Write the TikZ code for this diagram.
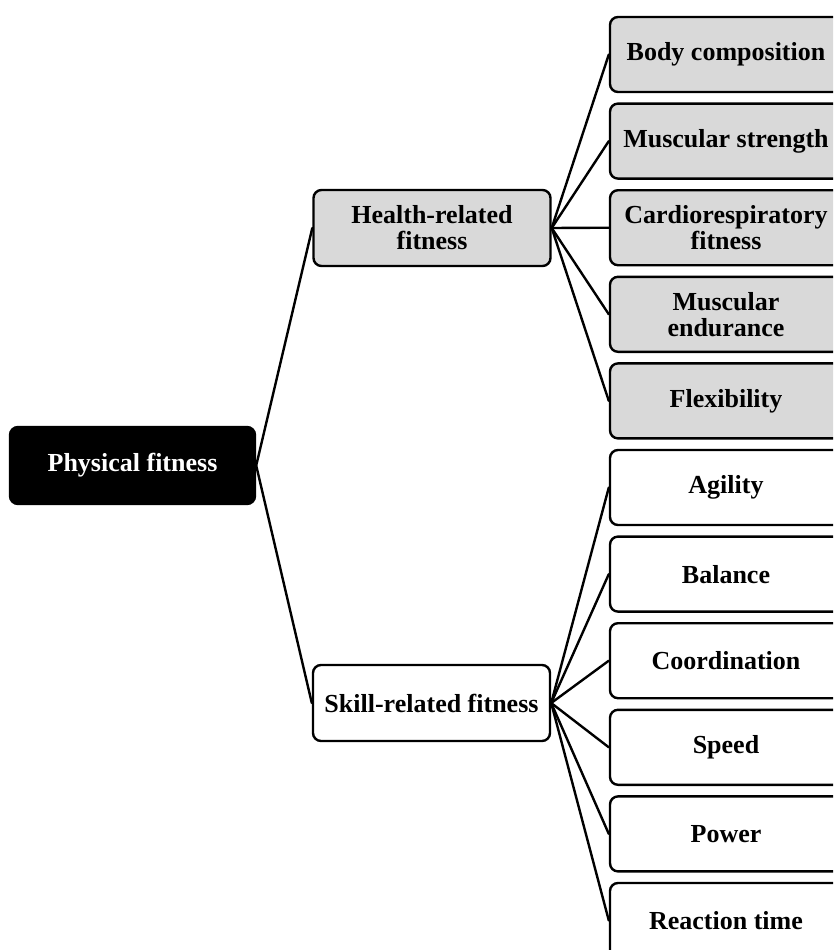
\documentclass[tikz,border=0pt]{standalone}
\usepackage{fontspec}
\setmainfont{Liberation Serif}
\begin{document}
\begin{tikzpicture}[x=1pt,y=-1pt,
  box/.style={draw=black, line width=2.4pt, rounded corners=8pt, inner sep=0pt,
    align=center, font=\fontsize{26}{26}\selectfont\bfseries},
  rootbox/.style={box, fill=black, text=white, minimum width=245pt, minimum height=77pt},
  midbox/.style={box, minimum width=237pt, minimum height=76pt},
  leafbox/.style={box, minimum width=232pt, minimum height=75pt},
  health/.style={fill=black!15},
  skill/.style={fill=white},
  link/.style={line width=2.4pt, line cap=round}]
\useasboundingbox (0,0) rectangle (833,950);
\clip (0,0) rectangle (833,950);

% root
\node[rootbox] (pf) at (132.5,465.5) {Physical fitness};

% second level
\node[midbox, health] (hr) at (432,228) {Health-related\\fitness};
\node[midbox, skill] (sr) at (431.5,703) {Skill-related fitness};

% health-related components
\node[leafbox, health] (l1) at (726,54.5) {Body composition};
\node[leafbox, health] (l2) at (726,141.1) {Muscular strength};
\node[leafbox, health] (l3) at (726,227.7) {Cardiorespiratory\\fitness};
\node[leafbox, health] (l4) at (726,314.3) {Muscular\\endurance};
\node[leafbox, health] (l5) at (726,400.9) {Flexibility};

% skill-related components
\node[leafbox, skill] (s1) at (726,487.5) {Agility};
\node[leafbox, skill] (s2) at (726,574.1) {Balance};
\node[leafbox, skill] (s3) at (726,660.7) {Coordination};
\node[leafbox, skill] (s4) at (726,747.3) {Speed};
\node[leafbox, skill] (s5) at (726,833.9) {Power};
\node[leafbox, skill] (s6) at (726,920.5) {Reaction time};

% connectors
\draw[link] (pf.east) -- (hr.west);
\draw[link] (pf.east) -- (sr.west);
\foreach \n in {l1,l2,l3,l4,l5}
  \draw[link] (hr.east) -- (\n.west);
\foreach \n in {s1,s2,s3,s4,s5,s6}
  \draw[link] (sr.east) -- (\n.west);
\end{tikzpicture}
\end{document}
